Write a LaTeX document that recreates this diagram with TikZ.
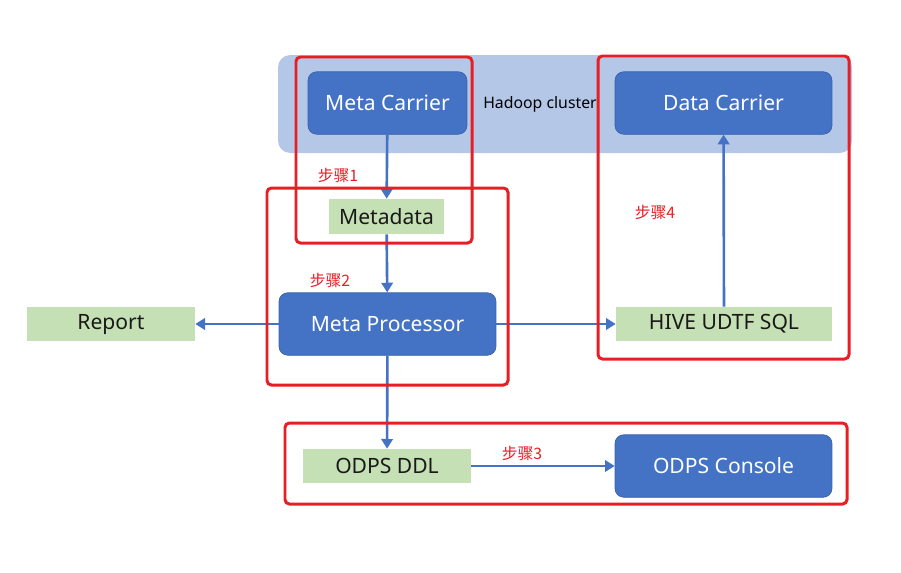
\documentclass[tikz,border=0pt]{standalone}
\usepackage{fontspec}
\setmainfont{Noto Sans}
\newfontfamily\cjk{Noto Sans CJK SC}
\usetikzlibrary{arrows.meta}
\definecolor{darkblue}{HTML}{4472C4}
\definecolor{clusterblue}{HTML}{B4C7E7}
\definecolor{lightgreen}{HTML}{C5E0B4}
\definecolor{stepred}{HTML}{E81E25}

\begin{document}
\begin{tikzpicture}[x=0.02cm, y=-0.02cm, every node/.style={font=\fontsize{12}{14}\selectfont}]
\tikzstyle{proc}=[fill=darkblue, draw=darkblue!85!black, line width=0.4pt, rounded corners=5pt, text=white, minimum height=1.25cm, inner sep=0pt]
\tikzstyle{data}=[fill=lightgreen, minimum height=0.68cm, text=black!90, inner sep=0pt]
\tikzstyle{flow}=[draw=darkblue, line width=1.5pt, -{Triangle[length=5.5pt,width=6.5pt]}]
\tikzstyle{stepbox}=[draw=stepred, line width=1.7pt, rounded corners=2.5pt]
\tikzstyle{steplbl}=[text=stepred, font=\cjk\fontsize{9}{10}\selectfont]
\useasboundingbox (0,0) rectangle (901,572);
% hadoop cluster background
\fill[clusterblue, rounded corners=7pt] (278,55) rectangle (852,153);
\node[font=\fontsize{9}{11}\selectfont] (hc) at (540,104) {Hadoop cluster};
% nodes
\node[proc, minimum width=3.18cm] (mc) at (387.5,103) {Meta Carrier};
\node[proc, minimum width=4.34cm] (dc) at (723.5,103) {Data Carrier};
\node[data, minimum width=2.3cm, minimum height=0.7cm] (md) at (386.5,216.5) {Metadata};
\node[proc, minimum width=4.34cm] (mp) at (387.5,324) {Meta Processor};
\node[data, minimum width=3.36cm] (rep) at (111,324) {Report};
\node[data, minimum width=4.32cm] (hive) at (724,324) {HIVE UDTF SQL};
\node[data, minimum width=3.36cm] (ddl) at (387,466) {ODPS DDL};
\node[proc, minimum width=4.34cm] (con) at (723.5,466) {ODPS Console};
% connectors
\draw[flow] (mc) -- (md);
\draw[flow] (md) -- (mp);
\draw[flow] (mp) -- (rep);
\draw[flow] (mp) -- (hive);
\draw[flow] (hive) -- (dc);
\draw[flow] (mp) -- (ddl);
\draw[flow] (ddl) -- (con);
% steps
\draw[stepbox] (296,57) rectangle (472,243);
\draw[stepbox] (598,56) rectangle (849,359);
\draw[stepbox] (267,188) rectangle (508,385);
\draw[stepbox] (285,423) rectangle (847,504);
\node[steplbl] (s1) at (338,175) {步骤1};
\node[steplbl] (s2) at (330,280) {步骤2};
\node[steplbl] (s3) at (522,453) {步骤3};
\node[steplbl] (s4) at (655,212) {步骤4};
\end{tikzpicture}
\end{document}
